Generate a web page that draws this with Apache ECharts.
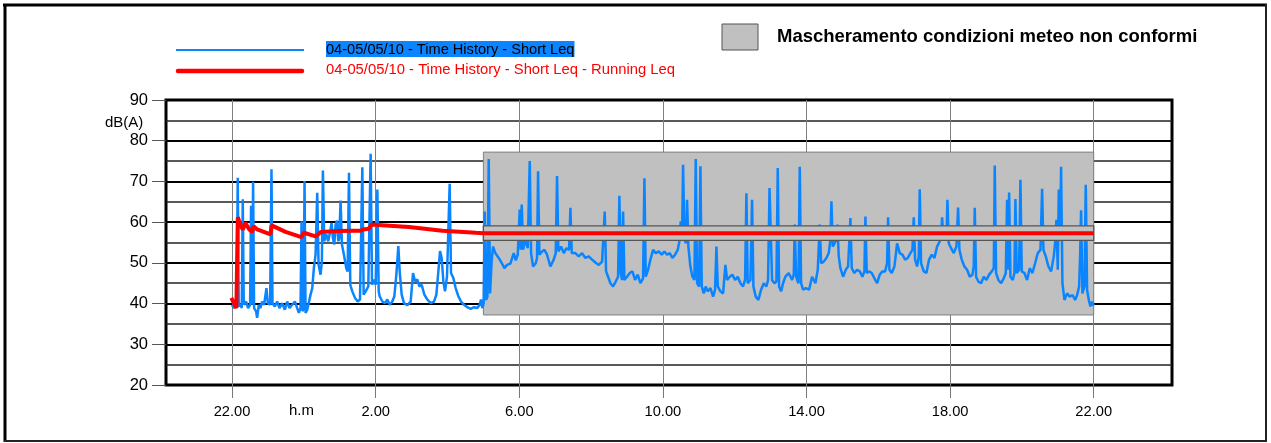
<!DOCTYPE html>
<html>
<head>
<meta charset="utf-8">
<script src="https://cdn.jsdelivr.net/npm/echarts@6/dist/echarts.min.js"></script>
<style>
html,body{margin:0;padding:0;background:#fff;}
#chart{width:1271px;height:443px;}
</style>
</head>
<body>
<div id="chart"></div>
<script>
// ---- DATA ----
// hours counted from midnight of 04/05 (22 = 22.00 of day 1, 46 = 22.00 of day 2)
const xTickHours = [22, 26, 30, 34, 38, 42, 46];
const xRange = [20.16, 48.18];
const yRange = [20, 90];
const seriesNames = ['04-05/05/10 - Time History - Short Leq', '04-05/05/10 - Time History - Short Leq - Running Leq'];
const maskLabel = 'Mascheramento condizioni meteo non conformi';
const maskHours = [29, 46];
const maskDb = [37.2, 77.2];
const maskBandDb = [55.5, 59.1];

const shortLeq = [
[22.000,39.7],[22.047,38.9],[22.093,39.7],[22.130,39.1],[22.158,70.9],[22.186,39.3],[22.233,39.9],[22.270,38.9],[22.298,65.6],[22.326,39.7],
[22.391,40.5],[22.447,38.9],[22.502,39.7],[22.530,64.0],[22.558,39.7],[22.586,69.9],[22.614,38.9],[22.670,38.1],[22.698,36.5],[22.744,39.7],
[22.791,38.9],[22.837,40.5],[22.893,39.7],[22.958,43.8],[22.995,40.1],[23.060,39.7],[23.098,73.0],[23.126,40.1],[23.191,39.3],[23.256,40.5],
[23.321,38.9],[23.395,40.1],[23.470,38.5],[23.535,40.5],[23.600,38.9],[23.674,39.7],[23.749,40.5],[23.814,38.9],[23.860,37.7],[23.907,38.9],
[23.935,60.2],[23.963,38.1],[23.991,38.9],[24.019,70.1],[24.047,37.7],[24.093,38.5],[24.140,38.1],[24.186,42.2],[24.233,43.8],[24.279,48.7],
[24.326,52.0],[24.372,67.2],[24.409,49.6],[24.465,47.1],[24.502,50.4],[24.530,72.7],[24.567,55.3],[24.623,57.0],[24.679,55.3],[24.735,57.8],
[24.772,59.8],[24.809,56.1],[24.847,54.5],[24.884,59.4],[24.921,60.4],[24.958,55.3],[24.986,56.1],[25.023,65.3],[25.060,54.5],[25.116,52.0],
[25.181,48.7],[25.219,47.9],[25.256,72.1],[25.293,44.6],[25.349,43.0],[25.423,41.4],[25.498,40.5],[25.563,41.0],[25.600,41.4],[25.628,73.5],
[25.665,42.2],[25.721,43.0],[25.795,44.2],[25.833,44.6],[25.860,76.8],[25.898,44.6],[25.953,45.9],[26.000,44.6],[26.047,68.0],[26.084,43.0],
[26.111,41.8],[26.186,40.5],[26.260,40.1],[26.325,41.0],[26.390,39.7],[26.464,40.5],[26.520,41.8],[26.576,47.1],[26.631,54.1],[26.669,47.9],
[26.724,42.2],[26.789,40.1],[26.882,39.6],[26.975,40.5],[27.040,47.5],[27.096,45.5],[27.161,45.9],[27.216,44.2],[27.281,44.6],[27.356,42.2],
[27.439,41.0],[27.532,40.1],[27.625,40.5],[27.690,42.2],[27.746,47.9],[27.792,52.9],[27.838,51.2],[27.885,45.5],[27.931,43.0],[27.987,46.7],
[28.033,47.1],[28.061,69.4],[28.098,47.5],[28.163,46.3],[28.228,43.8],[28.303,41.8],[28.377,40.5],[28.461,39.7],[28.553,39.1],[28.646,38.7],
[28.739,39.1],[28.832,38.9],[28.897,39.7],[28.934,41.0],[28.971,38.9],[29.008,40.1],[29.037,62.6],[29.074,40.9],[29.112,41.7],[29.149,75.5],
[29.186,42.5],[29.232,50.8],[29.269,54.0],[29.334,52.4],[29.427,51.2],[29.520,49.8],[29.585,48.7],[29.659,49.5],[29.752,49.8],[29.845,52.4],
[29.901,50.6],[29.957,52.0],[30.012,63.1],[30.040,53.2],[30.068,64.3],[30.105,53.2],[30.170,55.7],[30.235,53.6],[30.291,75.0],[30.328,52.4],
[30.384,49.1],[30.458,49.9],[30.495,51.2],[30.523,72.5],[30.560,52.0],[30.634,52.8],[30.699,53.2],[30.774,52.0],[30.866,49.1],[30.959,50.8],
[31.015,52.4],[31.052,71.3],[31.089,52.8],[31.164,54.0],[31.238,52.4],[31.312,53.6],[31.386,53.2],[31.424,63.5],[31.461,52.4],[31.563,52.4],
[31.656,51.6],[31.749,52.4],[31.841,51.2],[31.934,51.6],[32.027,50.8],[32.120,50.1],[32.213,49.5],[32.306,50.3],[32.352,49.9],[32.380,62.6],
[32.417,47.9],[32.473,46.6],[32.538,45.0],[32.612,44.2],[32.686,45.4],[32.751,46.6],[32.788,66.5],[32.826,47.5],[32.863,45.8],[32.891,62.6],
[32.928,45.8],[33.002,46.6],[33.076,47.5],[33.151,47.9],[33.225,45.8],[33.299,47.1],[33.374,45.0],[33.448,46.2],[33.485,70.8],[33.522,46.6],
[33.587,48.3],[33.652,50.8],[33.726,53.2],[33.800,52.4],[33.884,52.8],[33.968,52.0],[34.042,52.8],[34.116,52.0],[34.190,52.4],[34.265,51.2],
[34.339,52.0],[34.413,53.2],[34.469,55.7],[34.497,60.2],[34.534,56.5],[34.562,74.1],[34.599,55.7],[34.645,54.8],[34.673,65.5],[34.710,54.0],
[34.766,49.1],[34.822,46.6],[34.878,45.8],[34.915,75.5],[34.952,45.0],[35.008,44.2],[35.045,73.7],[35.082,44.2],[35.138,42.5],[35.193,44.2],
[35.249,43.0],[35.324,43.8],[35.398,41.7],[35.453,43.4],[35.491,54.0],[35.528,44.2],[35.602,43.0],[35.676,42.5],[35.741,49.5],[35.788,45.8],
[35.862,46.6],[35.936,47.1],[36.010,45.8],[36.085,46.6],[36.159,45.0],[36.233,44.2],[36.289,45.8],[36.326,67.1],[36.363,45.0],[36.438,45.8],
[36.484,65.5],[36.521,44.2],[36.586,41.7],[36.660,40.9],[36.735,43.4],[36.809,45.0],[36.883,44.2],[36.929,45.8],[36.970,68.4],[37.041,45.8],
[37.106,45.0],[37.162,45.4],[37.199,73.3],[37.236,44.2],[37.292,43.0],[37.347,45.0],[37.412,46.6],[37.505,47.5],[37.598,45.8],[37.645,47.1],
[37.672,59.4],[37.710,46.6],[37.775,45.0],[37.812,73.6],[37.849,45.0],[37.904,43.4],[37.979,43.8],[38.072,43.4],[38.155,46.6],[38.248,45.0],
[38.313,48.3],[38.369,59.4],[38.406,49.9],[38.480,50.3],[38.554,51.2],[38.619,52.4],[38.666,55.7],[38.694,65.1],[38.731,54.0],[38.777,53.6],
[38.833,55.7],[38.861,59.4],[38.898,51.6],[38.944,48.7],[39.019,46.6],[39.093,48.3],[39.158,49.1],[39.223,61.0],[39.260,48.7],[39.334,47.5],
[39.409,48.3],[39.483,47.9],[39.557,46.6],[39.613,47.9],[39.641,61.4],[39.678,47.5],[39.743,47.9],[39.817,47.5],[39.892,46.2],[39.966,45.0],
[40.040,47.1],[40.114,47.9],[40.189,47.9],[40.244,49.9],[40.272,61.2],[40.309,48.3],[40.374,47.5],[40.449,49.1],[40.523,54.8],[40.597,52.4],
[40.672,52.0],[40.746,50.8],[40.820,51.2],[40.894,52.4],[40.950,53.2],[40.987,61.2],[41.024,50.8],[41.080,49.1],[41.127,51.6],[41.154,68.1],
[41.191,49.9],[41.266,47.9],[41.340,47.5],[41.414,50.8],[41.489,52.0],[41.563,51.2],[41.637,54.0],[41.712,55.3],[41.749,56.5],[41.777,61.2],
[41.814,55.7],[41.860,56.1],[41.897,55.7],[41.925,65.5],[41.962,54.8],[42.027,53.6],[42.101,52.4],[42.176,54.0],[42.222,63.6],[42.259,53.2],
[42.324,50.8],[42.398,49.1],[42.473,48.3],[42.547,46.6],[42.621,47.1],[42.658,49.1],[42.686,63.5],[42.723,46.6],[42.788,45.4],[42.863,45.0],
[42.937,46.6],[43.011,45.8],[43.086,47.1],[43.160,47.9],[43.216,48.7],[43.243,73.9],[43.280,47.5],[43.345,45.8],[43.420,45.0],[43.494,46.2],
[43.550,47.5],[43.587,65.5],[43.615,48.3],[43.643,67.3],[43.680,46.6],[43.745,45.8],[43.791,47.5],[43.819,65.7],[43.856,47.5],[43.921,48.3],
[43.958,70.4],[43.995,47.9],[44.070,47.5],[44.144,45.8],[44.218,48.7],[44.292,47.5],[44.367,49.9],[44.441,52.4],[44.516,53.2],[44.562,68.2],
[44.599,53.2],[44.664,51.6],[44.738,49.1],[44.813,47.9],[44.887,51.6],[44.933,55.7],[44.961,60.6],[44.998,48.3],[45.026,68.0],[45.063,55.7],
[45.091,73.6],[45.128,45.0],[45.184,40.9],[45.258,42.5],[45.333,41.7],[45.407,42.1],[45.481,40.9],[45.537,42.1],[45.593,44.2],[45.620,51.6],
[45.648,62.9],[45.685,42.5],[45.741,44.2],[45.778,69.2],[45.815,43.4],[45.862,40.9],[45.908,39.3],[45.955,40.5],[45.983,39.7],[46.000,39.5]
];

const runningLeq = [
[21.98,41.4],[22.12,38.9],[22.16,61.2],[22.23,59.4],[22.30,58.2],[22.37,59.8],[22.48,58.2],[22.56,57.6],[22.60,59.0],[22.70,58.2],
[23.07,57.0],[23.10,59.2],[23.49,57.6],[23.93,56.3],[24.00,57.4],[24.33,56.5],[24.47,57.6],[24.98,57.8],[25.35,57.9],[25.58,57.9],
[25.65,58.2],[25.81,58.4],[25.88,59.4],[26.28,59.2],[26.93,58.8],[27.86,57.9],[28.79,57.4],[29.00,57.3],[46.00,57.3]
];

// ---- CHART ----
const chart = echarts.init(document.getElementById('chart'));
const FONT = '"Liberation Sans", Arial, sans-serif';

function rectItem(fill, stroke, lw) {
  return function (params, api) {
    const p0 = api.coord([api.value(0), api.value(3)]);
    const p1 = api.coord([api.value(1), api.value(2)]);
    return {
      type: 'rect',
      shape: { x: p0[0], y: p0[1], width: p1[0] - p0[0], height: p1[1] - p0[1] },
      style: { fill: fill, stroke: stroke, lineWidth: lw }
    };
  };
}

const option = {
  animation: false,
  backgroundColor: '#fff',
  grid: { left: 166, right: 99, top: 100, bottom: 58, show: true, borderColor: '#000', borderWidth: 3, backgroundColor: 'transparent' },
  xAxis: {
    type: 'value', min: xRange[0], max: xRange[1],
    axisLine: { show: false },
    axisTick: { show: true, customValues: xTickHours, length: 13, lineStyle: { color: '#777', width: 1 } },
    axisLabel: { customValues: xTickHours, margin: 19, color: '#000', fontFamily: FONT, fontSize: 14.7,
      formatter: function (v) { return (Math.round(v) % 24) + '.00'; } },
    splitLine: { show: true, lineStyle: { color: '#808080', width: 1 } }
  },
  yAxis: {
    type: 'value', min: yRange[0], max: yRange[1], interval: 10,
    axisLine: { show: false },
    axisTick: { show: true, length: 14, lineStyle: { color: '#555', width: 1 } },
    axisLabel: { margin: 18, color: '#000', fontFamily: FONT, fontSize: 16.5 },
    splitLine: { show: true, lineStyle: { color: '#000', width: 2 } },
    minorTick: { show: false, splitNumber: 2 },
    minorSplitLine: { show: true, lineStyle: { color: '#222', width: 1.6 } }
  },
  series: [
    { type: 'custom', name: 'mask', z: 1, silent: true, renderItem: rectItem('#c0c0c0', '#808080', 1),
      encode: { x: [0, 1], y: [2, 3] }, data: [[maskHours[0], maskHours[1], maskDb[0], maskDb[1]]] },
    { type: 'line', name: seriesNames[0], z: 2, data: shortLeq, showSymbol: false, symbol: 'none',
      lineStyle: { color: '#0a84ff', width: 2.5 }, itemStyle: { color: '#0a84ff' } },
    { type: 'custom', name: 'band', z: 3, silent: true, renderItem: rectItem('#c0c0c0', '#555', 1.3),
      encode: { x: [0, 1], y: [2, 3] }, data: [[maskHours[0], maskHours[1], maskBandDb[0], maskBandDb[1]]] },
    { type: 'line', name: seriesNames[1], z: 4, data: runningLeq, showSymbol: false, symbol: 'none',
      lineStyle: { color: '#ff0000', width: 4 }, itemStyle: { color: '#ff0000' } }
  ],
  graphic: [
    // outer frame
    { type: 'line', shape: { x1: 3, y1: 5, x2: 1267, y2: 5 }, style: { stroke: '#000', lineWidth: 3 } },
    { type: 'line', shape: { x1: 5, y1: 4, x2: 5, y2: 442 }, style: { stroke: '#000', lineWidth: 3 } },
    { type: 'line', shape: { x1: 1266, y1: 4, x2: 1266, y2: 442 }, style: { stroke: '#222', lineWidth: 2 } },
    { type: 'line', shape: { x1: 4, y1: 441, x2: 1267, y2: 441 }, style: { stroke: '#222', lineWidth: 2 } },
    // legend
    { type: 'line', shape: { x1: 176, y1: 50, x2: 304, y2: 50 }, style: { stroke: '#0a84ff', lineWidth: 2 } },
    { type: 'text', left: 326, top: 41, style: { text: seriesNames[0], fill: '#000', font: '14.6px ' + FONT,
      backgroundColor: '#0a84ff', padding: [1, 0, 0, 0] } },
    { type: 'line', shape: { x1: 178, y1: 71, x2: 302, y2: 71 }, style: { stroke: '#ff0000', lineWidth: 4.5, lineCap: 'round' } },
    { type: 'text', left: 326, top: 62, style: { text: seriesNames[1], fill: '#ff0000', font: '14.8px ' + FONT } },
    { type: 'rect', shape: { x: 722, y: 24, width: 36, height: 26 }, style: { fill: '#c0c0c0', stroke: '#555', lineWidth: 1 } },
    { type: 'text', left: 777, top: 27, style: { text: maskLabel, fill: '#000', font: 'bold 18.5px ' + FONT } },
    // axis names
    { type: 'text', left: 105, top: 115, style: { text: 'dB(A)', fill: '#000', font: '15px ' + FONT } },
    { type: 'text', left: 289, top: 403, style: { text: 'h.m', fill: '#000', font: '15px ' + FONT } }
  ]
};
chart.setOption(option);
</script>
</body>
</html>
